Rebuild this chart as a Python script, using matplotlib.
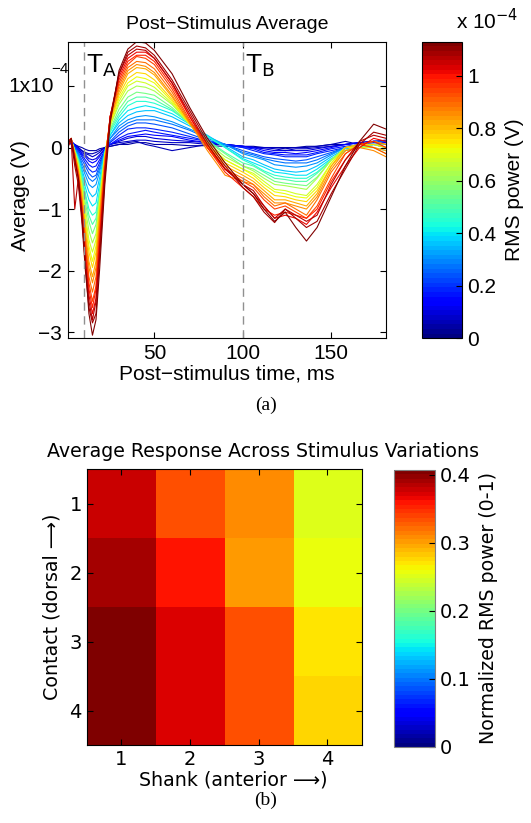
import numpy as np
import matplotlib
matplotlib.use("Agg")
import matplotlib.pyplot as plt
from matplotlib.cm import ScalarMappable
from matplotlib.colors import Normalize

# post-stimulus time samples (ms)
times = [1, 3, 5, 7, 9, 11, 13, 15, 17, 19, 22, 25, 30, 35, 40, 45, 50, 60, 70,
         80, 90, 100, 106, 112, 118, 124, 130, 136, 142, 150, 158, 166, 174, 181]

# RMS power of each trace (x 1e-4 V)
rms_power = [0.04, 0.06, 0.08, 0.10, 0.13, 0.16, 0.19, 0.23, 0.27, 0.31,
             0.36, 0.40, 0.45, 0.50, 0.56, 0.62, 0.68, 0.72, 0.76,
             0.82, 0.86, 0.90, 0.95, 0.98, 1.02, 1.06, 1.09, 1.12]

# averaged traces (x 1e-4 V), same order as rms_power
traces = [
    [0.1, 0.05, 0.05, 0.02, 0.0, -0.03, -0.05, -0.05, -0.05, -0.02, 0.0, 0.02, 0.05, 0.05, 0.08, 0.08, 0.05, 0.05, 0.03, 0.03, 0.02, 0.02, 0.02, 0.0, 0.0, 0.0, 0.0, 0.02, 0.02, 0.05, 0.05, 0.08, 0.1, 0.1],
    [0.05, 0.1, 0.02, 0.0, -0.05, -0.08, -0.1, -0.1, -0.08, -0.05, 0.0, 0.02, 0.05, 0.08, 0.1, 0.05, 0.02, -0.05, 0.0, 0.05, 0.05, 0.02, 0.0, 0.0, 0.0, -0.02, 0.0, 0.0, 0.02, 0.05, 0.1, 0.05, 0.1, 0.12],
    [0.1, 0.08, 0.05, 0.0, -0.05, -0.1, -0.12, -0.15, -0.12, -0.08, 0.0, 0.05, 0.08, 0.1, 0.12, 0.12, 0.1, 0.08, 0.08, 0.05, 0.05, 0.02, 0.0, 0.0, -0.02, -0.05, -0.02, -0.02, 0.0, 0.02, 0.05, 0.08, 0.08, 0.1],
    [0.05, 0.12, 0.02, -0.02, -0.08, -0.12, -0.18, -0.2, -0.18, -0.12, -0.02, 0.05, 0.1, 0.15, 0.18, 0.18, 0.15, 0.12, 0.1, 0.08, 0.05, 0.02, 0.0, -0.02, -0.05, -0.05, -0.05, -0.05, -0.02, 0.02, 0.05, 0.08, 0.1, 0.1],
    [0.1, 0.1, 0.05, -0.02, -0.1, -0.15, -0.22, -0.25, -0.22, -0.15, -0.02, 0.05, 0.12, 0.18, 0.2, 0.22, 0.2, 0.18, 0.12, 0.08, 0.05, 0.02, 0.0, -0.05, -0.08, -0.08, -0.1, -0.08, -0.05, 0.0, 0.05, 0.08, 0.1, 0.08],
    [0.05, 0.08, 0.0, -0.05, -0.12, -0.2, -0.28, -0.32, -0.3, -0.2, -0.05, 0.05, 0.15, 0.22, 0.25, 0.28, 0.25, 0.2, 0.15, 0.1, 0.05, 0.0, -0.02, -0.08, -0.1, -0.12, -0.12, -0.12, -0.08, -0.02, 0.02, 0.05, 0.1, 0.1],
    [0.1, 0.12, 0.02, -0.05, -0.15, -0.25, -0.35, -0.4, -0.38, -0.25, -0.05, 0.08, 0.2, 0.3, 0.32, 0.32, 0.3, 0.25, 0.18, 0.1, 0.05, 0.0, -0.05, -0.1, -0.12, -0.15, -0.15, -0.15, -0.1, -0.05, 0.0, 0.05, 0.08, 0.05],
    [0.05, 0.1, 0.0, -0.08, -0.2, -0.3, -0.42, -0.48, -0.45, -0.3, -0.05, 0.1, 0.25, 0.35, 0.4, 0.4, 0.38, 0.32, 0.22, 0.12, 0.05, -0.05, -0.1, -0.15, -0.18, -0.2, -0.22, -0.2, -0.15, -0.08, 0.0, 0.05, 0.1, 0.1],
    [0.1, 0.08, -0.02, -0.1, -0.25, -0.38, -0.5, -0.55, -0.5, -0.35, -0.05, 0.15, 0.3, 0.4, 0.45, 0.45, 0.45, 0.38, 0.28, 0.15, 0.05, -0.08, -0.12, -0.18, -0.22, -0.25, -0.25, -0.25, -0.2, -0.1, 0.0, 0.05, 0.1, 0.05],
    [0.05, 0.12, -0.03, -0.12, -0.3, -0.45, -0.6, -0.65, -0.6, -0.4, -0.05, 0.15, 0.35, 0.45, 0.5, 0.52, 0.5, 0.42, 0.3, 0.18, 0.05, -0.1, -0.15, -0.2, -0.28, -0.3, -0.32, -0.3, -0.25, -0.12, 0.0, 0.05, 0.05, 0.0],
    [0.1, 0.1, -0.05, -0.15, -0.35, -0.55, -0.72, -0.8, -0.75, -0.5, -0.05, 0.2, 0.4, 0.52, 0.58, 0.6, 0.6, 0.5, 0.35, 0.2, 0.02, -0.15, -0.2, -0.28, -0.35, -0.38, -0.4, -0.38, -0.3, -0.15, -0.02, 0.0, 0.05, 0.05],
    [0.05, 0.1, -0.05, -0.18, -0.4, -0.65, -0.85, -0.95, -0.9, -0.6, -0.1, 0.2, 0.45, 0.6, 0.65, 0.68, 0.65, 0.55, 0.38, 0.18, 0.0, -0.18, -0.25, -0.32, -0.4, -0.42, -0.45, -0.45, -0.35, -0.18, -0.05, 0.0, 0.0, -0.05],
    [0.1, 0.12, -0.05, -0.2, -0.45, -0.75, -1.0, -1.1, -1.05, -0.7, -0.1, 0.25, 0.5, 0.68, 0.75, 0.75, 0.72, 0.6, 0.4, 0.18, 0.0, -0.2, -0.28, -0.38, -0.45, -0.48, -0.5, -0.5, -0.4, -0.2, -0.05, 0.0, 0.05, 0.0],
    [0.05, 0.1, -0.05, -0.2, -0.5, -0.8, -1.1, -1.25, -1.15, -0.75, -0.1, 0.28, 0.55, 0.75, 0.82, 0.82, 0.78, 0.62, 0.38, 0.12, -0.08, -0.25, -0.3, -0.4, -0.5, -0.52, -0.55, -0.55, -0.42, -0.2, -0.05, 0.0, 0.05, 0.05],
    [0.1, 0.1, -0.05, -0.22, -0.55, -0.9, -1.2, -1.4, -1.25, -0.8, -0.1, 0.3, 0.62, 0.82, 0.9, 0.88, 0.85, 0.65, 0.38, 0.1, -0.1, -0.3, -0.35, -0.45, -0.55, -0.58, -0.6, -0.62, -0.48, -0.2, 0.0, 0.0, 0.05, 0.0],
    [0.05, 0.12, -0.05, -0.25, -0.6, -1.0, -1.35, -1.55, -1.4, -0.85, -0.1, 0.35, 0.7, 0.92, 1.0, 0.98, 0.92, 0.7, 0.38, 0.08, -0.15, -0.3, -0.38, -0.5, -0.6, -0.62, -0.65, -0.68, -0.5, -0.2, 0.0, 0.05, 0.05, 0.0],
    [0.1, 0.1, -0.08, -0.3, -0.65, -1.1, -1.5, -1.7, -1.5, -0.9, -0.15, 0.35, 0.75, 1.0, 1.08, 1.05, 0.98, 0.72, 0.38, 0.05, -0.2, -0.35, -0.42, -0.55, -0.68, -0.7, -0.75, -0.78, -0.6, -0.25, 0.0, 0.0, 0.0, -0.1],
    [0.05, 0.15, -0.1, -0.3, -0.7, -1.2, -1.6, -1.85, -1.6, -0.95, -0.15, 0.4, 0.8, 1.05, 1.15, 1.12, 1.05, 0.75, 0.38, 0.05, -0.2, -0.35, -0.45, -0.6, -0.72, -0.75, -0.8, -0.82, -0.65, -0.25, 0.0, 0.05, 0.1, 0.05],
    [0.1, 0.1, -0.1, -0.35, -0.75, -1.25, -1.7, -1.95, -1.7, -1.0, -0.15, 0.4, 0.85, 1.12, 1.22, 1.2, 1.1, 0.78, 0.38, 0.02, -0.25, -0.4, -0.5, -0.65, -0.78, -0.8, -0.85, -0.88, -0.7, -0.3, -0.05, 0.05, 0.05, 0.0],
    [0.05, 0.12, -0.1, -0.35, -0.8, -1.35, -1.85, -2.1, -1.85, -1.1, -0.2, 0.45, 0.9, 1.2, 1.3, 1.28, 1.18, 0.82, 0.4, 0.0, -0.3, -0.45, -0.55, -0.7, -0.85, -0.85, -0.9, -0.95, -0.75, -0.3, 0.0, 0.05, 0.0, -0.05],
    [0.1, 0.1, -0.15, -0.4, -0.85, -1.45, -1.95, -2.2, -1.95, -1.2, -0.2, 0.45, 0.95, 1.25, 1.35, 1.32, 1.22, 0.85, 0.4, -0.05, -0.45, -0.55, -0.6, -0.75, -0.9, -0.9, -0.95, -1.0, -0.8, -0.35, -0.05, 0.0, -0.05, -0.15],
    [0.05, 0.15, -0.1, -0.4, -0.9, -1.5, -2.1, -2.35, -2.1, -1.3, -0.25, 0.5, 1.0, 1.3, 1.4, 1.38, 1.28, 0.9, 0.42, 0.0, -0.35, -0.5, -0.6, -0.8, -0.95, -0.9, -1.0, -1.1, -0.85, -0.4, -0.1, 0.05, 0.1, 0.05],
    [0.1, 0.12, -0.2, -0.5, -0.95, -1.6, -2.2, -2.5, -2.25, -1.4, -0.3, 0.5, 1.05, 1.35, 1.48, 1.45, 1.35, 0.95, 0.45, 0.0, -0.35, -0.55, -0.65, -0.85, -1.0, -0.95, -1.05, -1.15, -0.95, -0.5, -0.1, 0.05, 0.0, -0.1],
    [0.05, 0.1, -0.15, -0.45, -1.0, -1.7, -2.3, -2.6, -2.3, -1.5, -0.35, 0.5, 1.1, 1.4, 1.5, 1.5, 1.4, 1.0, 0.5, 0.0, -0.4, -0.65, -0.8, -1.0, -1.1, -1.05, -1.1, -1.15, -1.0, -0.55, -0.2, 0.05, 0.1, 0.0],
    [0.1, 0.15, -0.2, -0.5, -1.0, -1.8, -2.4, -2.7, -2.45, -1.6, -0.4, 0.5, 1.15, 1.45, 1.55, 1.55, 1.45, 1.05, 0.5, 0.05, -0.35, -0.6, -0.75, -0.95, -1.15, -1.1, -1.15, -1.25, -1.05, -0.65, -0.3, 0.0, 0.15, 0.1],
    [0.0, 0.12, -1.0, -0.5, -1.1, -1.9, -2.5, -2.8, -2.5, -1.7, -0.4, 0.5, 1.2, 1.5, 1.6, 1.58, 1.45, 1.05, 0.55, 0.05, -0.35, -0.6, -0.7, -0.95, -1.15, -1.0, -1.1, -1.2, -1.1, -0.6, -0.2, 0.1, 0.2, 0.15],
    [0.1, 0.1, -0.3, -0.6, -1.2, -2.0, -2.6, -2.85, -2.7, -1.8, -0.5, 0.45, 1.2, 1.55, 1.65, 1.62, 1.5, 1.1, 0.6, 0.1, -0.3, -0.65, -0.8, -1.05, -1.22, -1.0, -1.15, -1.3, -1.2, -0.75, -0.35, 0.05, 0.25, 0.2],
    [0.05, 0.15, -0.2, -0.5, -1.1, -1.9, -2.7, -3.05, -2.8, -2.0, -0.6, 0.4, 1.25, 1.6, 1.72, 1.7, 1.58, 1.2, 0.65, 0.15, -0.25, -0.6, -0.75, -1.0, -1.2, -1.05, -1.3, -1.52, -1.3, -0.8, -0.3, 0.1, 0.38, 0.3],
]

# panel (b): normalized RMS power, rows = contact, cols = shank
shanks = [1, 2, 3, 4]
contacts = [1, 2, 3, 4]
norm_power = [
    [0.380, 0.336, 0.309, 0.254],
    [0.390, 0.357, 0.301, 0.258],
    [0.407, 0.374, 0.336, 0.268],
    [0.407, 0.374, 0.336, 0.275],
]

sans = ['Liberation Sans', 'DejaVu Sans']
fig = plt.figure(figsize=(5.31, 8.23), dpi=100)

# ---------- panel (a) ----------
cmap = plt.get_cmap('jet', 64)
vmax = 1.13e-4
norm = Normalize(0, vmax)

ax = fig.add_axes([0.1275, 0.589, 0.5995, 0.3603])
for p, tr in zip(rms_power, traces):
    ax.plot(times, np.array(tr) * 1e-4, color=cmap(norm(p * 1e-4)), lw=0.8)

ax.axvline(10, color='#909090', ls=(0, (6, 4)), lw=1)
ax.axvline(100, color='#909090', ls=(0, (6, 4)), lw=1)
ax.text(11.5, 1.22e-4, r'T$_\mathrm{A}$', fontsize=19, family=sans)
ax.text(101, 1.22e-4, r'T$_\mathrm{B}$', fontsize=19, family=sans)

ax.set_xlim(1, 181)
ax.set_ylim(-3.1e-4, 1.72e-4)
ax.set_xticks([50, 100, 150])
ax.set_yticks([-3e-4, -2e-4, -1e-4, 0, 1e-4])
ax.set_yticklabels(['\u22123', '\u22122', '\u22121', '0', ''])
ax.tick_params(direction='in', top=True, right=True, labelsize=15, length=4, pad=4)
for lab in ax.get_xticklabels() + ax.get_yticklabels():
    lab.set_family(sans)
# MATLAB-style exponent label on the top tick
ytr = ax.get_yaxis_transform()
ax.text(-0.045, 1e-4, '1x10', transform=ytr, ha='right', va='center',
        fontsize=15, family=sans)
ax.text(-0.052, 1.17e-4, '\u22124', transform=ytr, ha='left', va='bottom',
        fontsize=11, family=sans)
ax.set_title('Post\u2212Stimulus Average', fontsize=14, family=sans, pad=9)
ax.set_xlabel('Post\u2212stimulus time, ms', fontsize=15, family=sans, labelpad=1)
ax.set_ylabel('Average (V)', fontsize=15, family=sans)
ax.yaxis.set_label_coords(-0.118, 0.48)

cax = fig.add_axes([0.7953, 0.589, 0.0753, 0.3603])
sm = ScalarMappable(norm=norm, cmap=cmap)
cb = fig.colorbar(sm, cax=cax)
cb.set_ticks([0, 0.2e-4, 0.4e-4, 0.6e-4, 0.8e-4, 1e-4])
cb.set_ticklabels(['0', '0.2', '0.4', '0.6', '0.8', '1'])
cax.tick_params(direction='in', labelsize=15, length=4)
for lab in cax.get_yticklabels():
    lab.set_family(sans)
cb.set_label('RMS power (V)', fontsize=15, family=sans, labelpad=6)
cax.text(0.85, 1.03, r'x 10$^{-4}$', transform=cax.transAxes, fontsize=15,
         family=sans, ha='left', va='bottom')

fig.text(0.5, 1 - 405 / 823, '(a)', ha='center', va='center', fontsize=14,
         family='Liberation Serif')

# ---------- panel (b) ----------
ax2 = fig.add_axes([0.1633, 0.0948, 0.518, 0.335])
im = ax2.imshow(norm_power, cmap=cmap, vmin=0, vmax=0.407, aspect='auto',
                extent=[0.5, 4.5, 4.5, 0.5])
ax2.set_xticks(shanks)
ax2.set_yticks(contacts)
ax2.tick_params(direction='in', top=True, right=True, labelsize=14, length=4)
ax2.set_title('Average Response Across Stimulus Variations', fontsize=13.7,
              pad=9, x=0.641)
ax2.set_xlabel('Shank (anterior \u27f6)', fontsize=13.7, labelpad=1, x=0.534)
ax2.set_ylabel('Contact (dorsal \u27f6)', fontsize=13.7, labelpad=6)

cax2 = fig.add_axes([0.742, 0.0924, 0.0772, 0.3365])
cb2 = fig.colorbar(im, cax=cax2)
cb2.set_ticks([0, 0.1, 0.2, 0.3, 0.4])
cb2.set_ticklabels(['0', '0.1', '0.2', '0.3', '0.4'])
cax2.tick_params(direction='in', labelsize=14, length=4)
cb2.outline.set_edgecolor('#808080')
cb2.set_label('Normalized RMS power (0-1)', fontsize=13.7, labelpad=6)

fig.text(0.5, 1 - 800 / 823, '(b)', ha='center', va='center', fontsize=14,
         family='Liberation Serif')

fig.savefig('out.png', dpi=100)
